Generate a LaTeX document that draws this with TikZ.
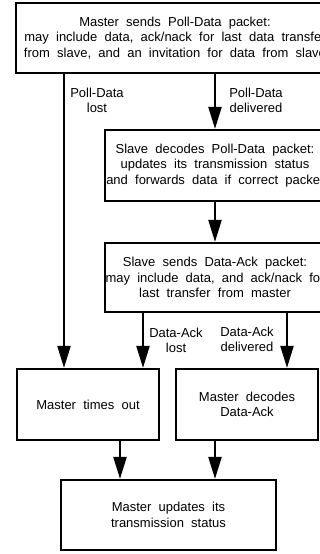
\documentclass[tikz,border=0pt]{standalone}
\usepackage{fontspec}
\setmainfont{Liberation Sans}[WordSpace=2]
\usetikzlibrary{arrows.meta}
\begin{document}
\begin{tikzpicture}[x=1pt,y=-1pt,
  box/.style={draw, line width=2.2pt, fill=white, align=center, inner sep=0pt,
    font=\fontsize{13}{15.5}\selectfont},
  lbl/.style={align=center, inner sep=0pt, font=\fontsize{13}{15}\selectfont},
  arr/.style={line width=2.2pt, -{Triangle[width=13pt,length=22pt]}}]
\useasboundingbox (0,0) rectangle (320,554);
\clip (0,0) rectangle (320,554);
\node[box, minimum width=318pt, minimum height=70pt] (top) at (175,38)
  {Master sends Poll-Data packet:\\may include data, ack/nack for last data transfer\\from slave, and an invitation for data from slave};
\node[box, minimum width=220pt, minimum height=71pt] (sd) at (215,165.5)
  {Slave decodes Poll-Data packet:\\updates its transmission status\\and forwards data if correct packet};
\node[box, minimum width=220pt, minimum height=69pt] (ss) at (215,277.5)
  {Slave sends Data-Ack packet:\\may include data, and ack/nack for\\last transfer from master};
\node[box, minimum width=142pt, minimum height=71pt] (tout) at (88,404.5)
  {Master times out};
\node[box, minimum width=142pt, minimum height=71pt] (md) at (247,404.5)
  {Master decodes\\Data-Ack};
\node[box, minimum width=215pt, minimum height=70pt] (mu) at (168.5,515)
  {Master updates its\\transmission status};
\coordinate (xl) at (64,0);
\coordinate (xa) at (143,0);
\coordinate (xb) at (287,0);
\coordinate (xc) at (120,0);
\draw[arr] (top.south -| xl) -- (tout.north -| xl);
\draw[arr] (top.south -| sd.north) -- (sd.north);
\draw[arr] (sd.south) -- (ss.north);
\draw[arr] (ss.south -| xa) -- (tout.north -| xa);
\draw[arr] (ss.south -| xb) -- (md.north -| xb);
\draw[arr] (tout.south -| xc) -- (mu.north -| xc);
\draw[arr] (md.south -| sd.north) -- (mu.north -| sd.north);
\node[lbl] (l1) at (97,100) {Poll-Data\\lost};
\node[lbl] (l2) at (256,100) {Poll-Data\\delivered};
\node[lbl] (l3) at (176,340) {Data-Ack\\lost};
\node[lbl] (l4) at (247,339) {Data-Ack\\delivered};
\end{tikzpicture}
\end{document}
